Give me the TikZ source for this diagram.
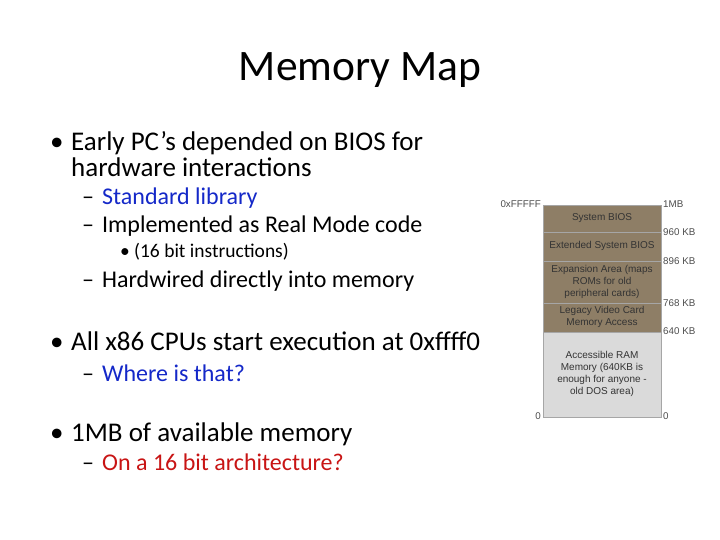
\documentclass[tikz,border=0pt]{standalone}
\usepackage{fontspec}
\setmainfont{Carlito}
\newfontfamily\lab{Liberation Sans}
\begin{document}
\begin{tikzpicture}[x=1pt,y=-1pt,
 t/.style={anchor=base west,inner sep=0pt,font=\fontsize{27}{30}\selectfont},
 s/.style={anchor=base west,inner sep=0pt,font=\fontsize{24}{26}\selectfont},
 ss/.style={anchor=base west,inner sep=0pt,font=\fontsize{19.5}{22}\selectfont},
 seg/.style={draw=gray!70,line width=0.6pt},
 bl/.style={inner sep=0pt,align=center,font=\lab\fontsize{10}{12}\selectfont,text=black!80},
 ml/.style={inner sep=0pt,font=\lab\fontsize{9.8}{11}\selectfont,text=black!70}]
\useasboundingbox (0,0) rectangle (720,540);
\definecolor{tan}{RGB}{142,126,102}
\definecolor{ram}{RGB}{218,218,218}
\definecolor{myblue}{RGB}{20,40,200}
\definecolor{myred}{RGB}{200,20,20}
\node[anchor=base,inner sep=0pt,font=\fontsize{43.5}{48}\selectfont] (title) at (360,81) {Memory Map};
\node[t] (b1) at (50,151) {•};
\node[t] (l1) at (71,151) {Early PC’s depended on BIOS for};
\node[t] (l2) at (71,177) {hardware interactions};
\node[s] (d1) at (82,205) {–};
\node[s,text=myblue] (l3) at (102,205) {Standard library};
\node[s] (d2) at (82,233) {–};
\node[s] (l4) at (102,233) {Implemented as Real Mode code};
\node[ss] (b2) at (120,258) {•};
\node[ss] (l5) at (134,258) {(16 bit instructions)};
\node[s] (d3) at (82,287) {–};
\node[s] (l6) at (102,287) {Hardwired directly into memory};
\node[t] (b3) at (50,350) {•};
\node[t] (l7) at (71,350) {All x86 CPUs start execution at 0xffff0};
\node[s] (d4) at (82,381) {–};
\node[s,text=myblue] (l8) at (102,381) {Where is that?};
\node[t] (b4) at (50,441) {•};
\node[t] (l9) at (71,441) {1MB of available memory};
\node[s] (d5) at (82,470) {–};
\node[s,text=myred] (l10) at (102,470) {On a 16 bit architecture?};
% memory map
\filldraw[seg,fill=tan] (543,205) rectangle (661,232);
\filldraw[seg,fill=tan] (543,232) rectangle (661,261);
\filldraw[seg,fill=tan] (543,261) rectangle (661,303);
\filldraw[seg,fill=tan] (543,303) rectangle (661,332);
\filldraw[seg,fill=ram] (543,332) rectangle (661,417);
\node[bl] (m1) at (602,218) {System BIOS};
\node[bl] (m2) at (602,246) {Extended System BIOS};
\node[bl] (m3) at (602,282) {Expansion Area (maps\\ROMs for old\\peripheral cards)};
\node[bl] (m4) at (602,317) {Legacy Video Card\\Memory Access};
\node[bl] (m5) at (602,374) {Accessible RAM\\Memory (640KB is\\enough for anyone -\\old DOS area)};
\node[ml,anchor=east] (a1) at (541,204) {0xFFFFF};
\node[ml,anchor=east] (a2) at (541,416) {0};
\node[ml,anchor=west] (r1) at (663,204) {1MB};
\node[ml,anchor=west] (r2) at (663,232) {960 KB};
\node[ml,anchor=west] (r3) at (663,261) {896 KB};
\node[ml,anchor=west] (r4) at (663,303) {768 KB};
\node[ml,anchor=west] (r5) at (663,331) {640 KB};
\node[ml,anchor=west] (r6) at (663,416) {0};
\end{tikzpicture}
\end{document}
